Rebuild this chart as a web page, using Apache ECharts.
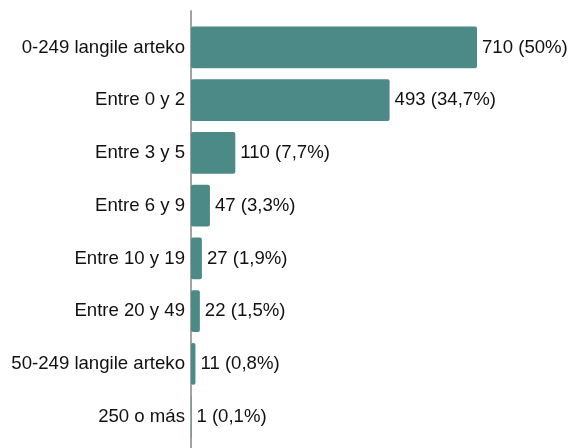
<!DOCTYPE html>
<html>
<head>
    <meta charset="UTF-8">
    <title>Langile kopurua</title>
    <script src="https://cdn.jsdelivr.net/npm/echarts@6/dist/echarts.min.js"></script>
    <style>
        html, body { margin: 0; padding: 0; background: #fff; }
        #chart { width: 573px; height: 448px; }
    </style>
</head>
<body>
    <div id="chart"></div>
    <script>
        // datos
        var categories = ['0-249 langile arteko', 'Entre 0 y 2', 'Entre 3 y 5', 'Entre 6 y 9',
            'Entre 10 y 19', 'Entre 20 y 49', '50-249 langile arteko', '250 o más'];
        var values = [710, 493, 110, 47, 27, 22, 11, 1];
        var percents = ['50%', '34,7%', '7,7%', '3,3%', '1,9%', '1,5%', '0,8%', '0,1%'];

        var chart = echarts.init(document.getElementById('chart'));
        chart.setOption({
            animation: false,
            grid: [
                { left: 191, right: 96, top: 21, bottom: 5 },
                { left: 191, right: 96, top: 11, bottom: 0 }
            ],
            xAxis: [
                { type: 'value', min: 0, max: 710, show: false, gridIndex: 0 },
                { type: 'value', min: 0, max: 1, show: false, gridIndex: 1 }
            ],
            yAxis: [
                {
                    type: 'category', inverse: true, data: categories, gridIndex: 0,
                    axisLine: { show: false }, axisTick: { show: false },
                    axisLabel: { color: '#111', fontSize: 18.6, fontFamily: 'Liberation Sans, Arial', margin: 6 }
                },
                {
                    type: 'category', data: [''], gridIndex: 1,
                    axisLine: { show: true, lineStyle: { color: '#a3a3a3', width: 2 } },
                    axisTick: { show: false }, axisLabel: { show: false }
                }
            ],
            series: [{
                type: 'bar',
                data: values,
                barWidth: '79%',
                itemStyle: { color: '#4b8a86', borderRadius: 2 },
                label: {
                    show: true, position: 'right', distance: 5,
                    color: '#111', fontSize: 18.6, fontFamily: 'Liberation Sans, Arial',
                    formatter: function (p) { return values[p.dataIndex] + ' (' + percents[p.dataIndex] + ')'; }
                }
            }]
        });
    </script>
</body>
</html>
